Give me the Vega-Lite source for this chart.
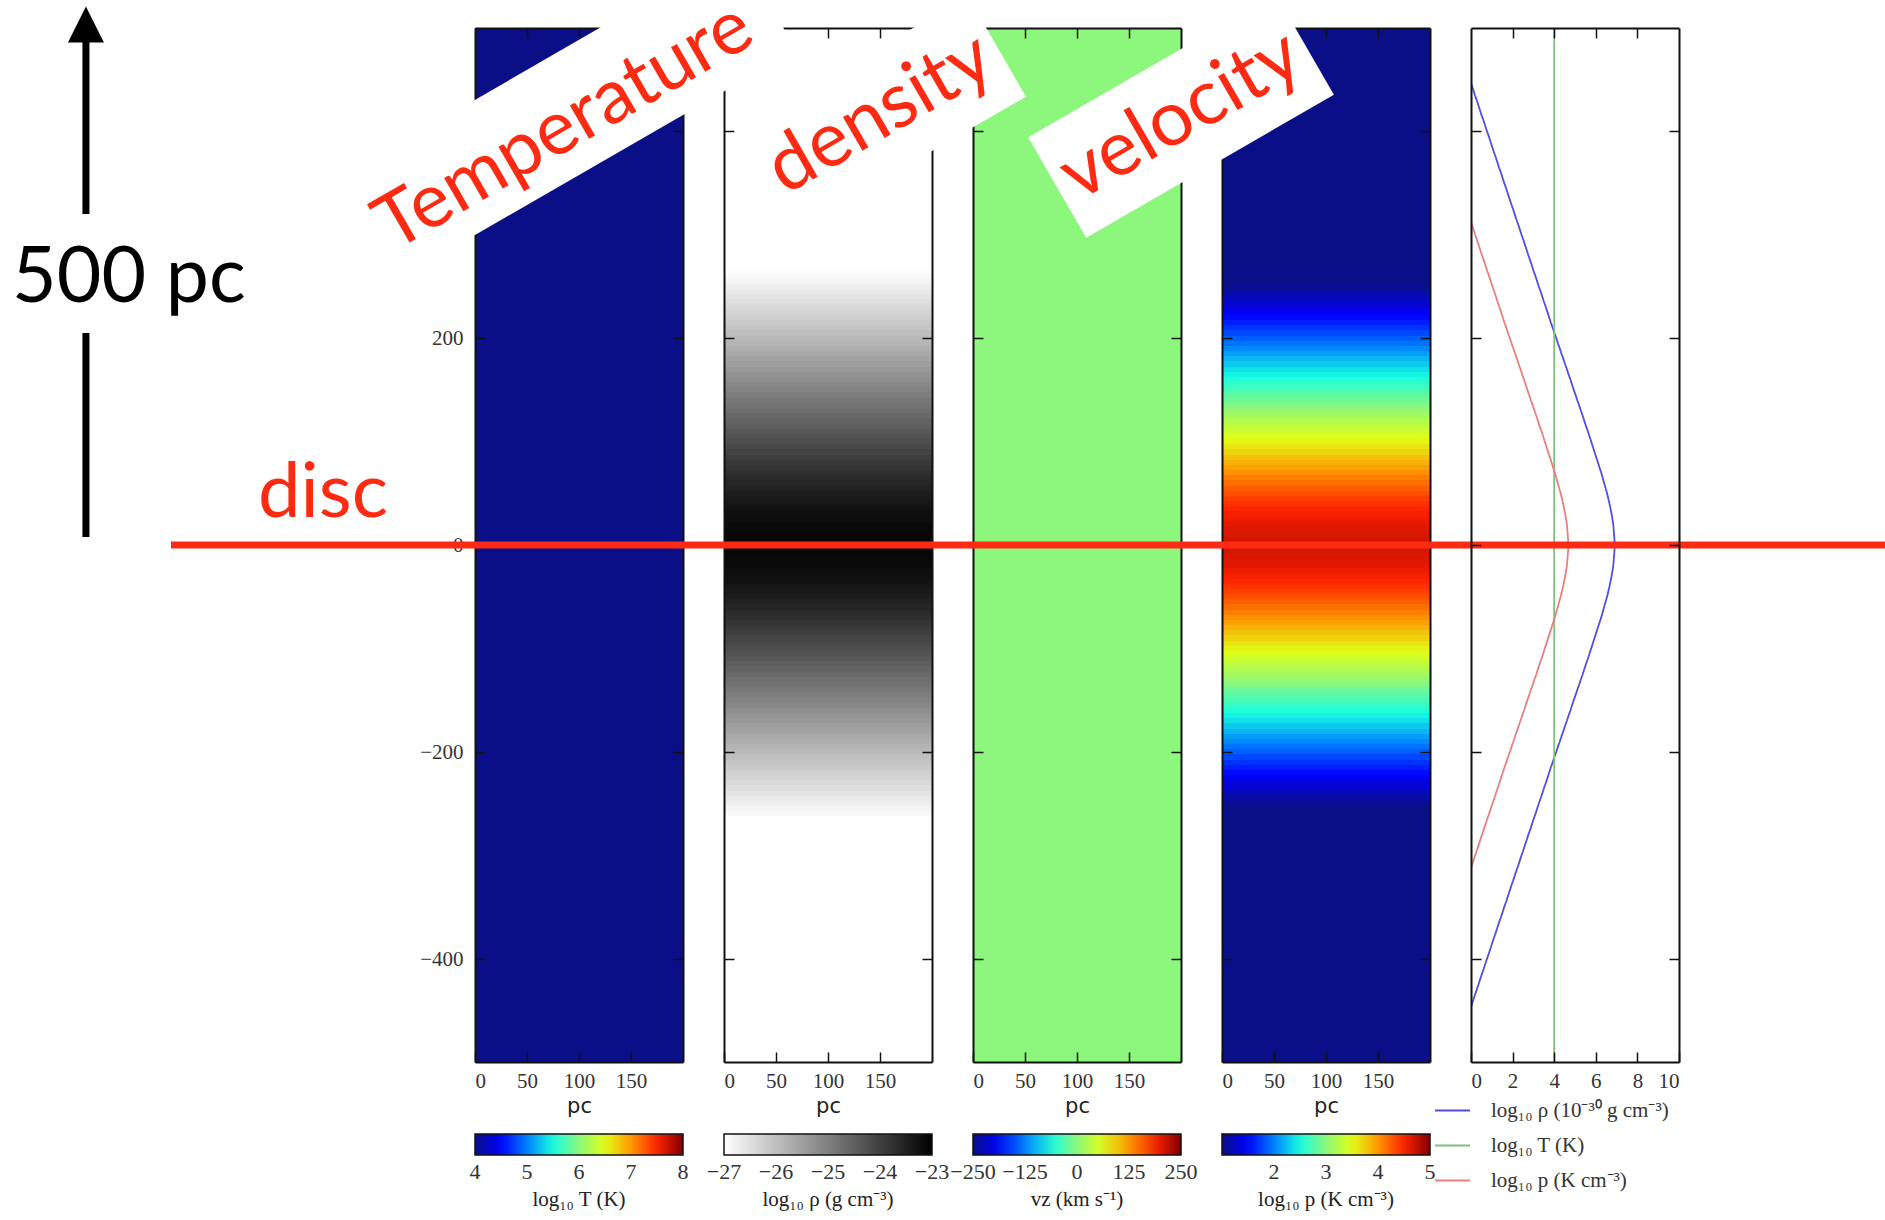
{
  "$schema": "https://vega.github.io/schema/vega-lite/v6.json",
  "autosize": {"type": "none"},
  "padding": {"left": 475, "top": 28, "right": 1410, "bottom": 1192},
  "background": "white",
  "bounds": "flush",
  "spacing": 41,
  "config": {
    "view": {"stroke": null},
    "font": "Liberation Serif",
    "axis": {"domainColor": "#111111", "domainWidth": 2, "tickColor": "#111111", "tickWidth": 1.5, "labelFont": "Liberation Serif", "labelFontSize": 21, "labelColor": "#333333", "grid": false, "titleFont": "DejaVu Sans", "titleFontSize": 21, "titleFontWeight": "normal", "titleColor": "#222222"},
    "legend": {"labelFont": "Liberation Serif", "labelFontSize": 22, "labelColor": "#333333", "titleFont": "Liberation Serif", "titleFontSize": 21, "titleFontWeight": "normal", "titleColor": "#222222", "padding": 0}
  },
  "datasets": {
    "profile": [
      {"z": -500, "T": 4, "v": 0, "r": -0.89, "rc": -30.89, "p": -3.12},
      {"z": -495, "T": 4, "v": 0, "r": -0.80, "rc": -30.80, "p": -3.03},
      {"z": -490, "T": 4, "v": 0, "r": -0.72, "rc": -30.72, "p": -2.95},
      {"z": -485, "T": 4, "v": 0, "r": -0.64, "rc": -30.64, "p": -2.87},
      {"z": -480, "T": 4, "v": 0, "r": -0.56, "rc": -30.56, "p": -2.79},
      {"z": -475, "T": 4, "v": 0, "r": -0.47, "rc": -30.47, "p": -2.70},
      {"z": -470, "T": 4, "v": 0, "r": -0.39, "rc": -30.39, "p": -2.62},
      {"z": -465, "T": 4, "v": 0, "r": -0.31, "rc": -30.31, "p": -2.54},
      {"z": -460, "T": 4, "v": 0, "r": -0.22, "rc": -30.22, "p": -2.45},
      {"z": -455, "T": 4, "v": 0, "r": -0.14, "rc": -30.14, "p": -2.37},
      {"z": -450, "T": 4, "v": 0, "r": -0.06, "rc": -30.06, "p": -2.29},
      {"z": -445, "T": 4, "v": 0, "r": 0.03, "rc": -29.97, "p": -2.20},
      {"z": -440, "T": 4, "v": 0, "r": 0.11, "rc": -29.89, "p": -2.12},
      {"z": -435, "T": 4, "v": 0, "r": 0.19, "rc": -29.81, "p": -2.04},
      {"z": -430, "T": 4, "v": 0, "r": 0.28, "rc": -29.72, "p": -1.95},
      {"z": -425, "T": 4, "v": 0, "r": 0.36, "rc": -29.64, "p": -1.87},
      {"z": -420, "T": 4, "v": 0, "r": 0.44, "rc": -29.56, "p": -1.79},
      {"z": -415, "T": 4, "v": 0, "r": 0.52, "rc": -29.48, "p": -1.71},
      {"z": -410, "T": 4, "v": 0, "r": 0.61, "rc": -29.39, "p": -1.62},
      {"z": -405, "T": 4, "v": 0, "r": 0.69, "rc": -29.31, "p": -1.54},
      {"z": -400, "T": 4, "v": 0, "r": 0.77, "rc": -29.23, "p": -1.46},
      {"z": -395, "T": 4, "v": 0, "r": 0.86, "rc": -29.14, "p": -1.37},
      {"z": -390, "T": 4, "v": 0, "r": 0.94, "rc": -29.06, "p": -1.29},
      {"z": -385, "T": 4, "v": 0, "r": 1.02, "rc": -28.98, "p": -1.21},
      {"z": -380, "T": 4, "v": 0, "r": 1.10, "rc": -28.90, "p": -1.13},
      {"z": -375, "T": 4, "v": 0, "r": 1.19, "rc": -28.81, "p": -1.04},
      {"z": -370, "T": 4, "v": 0, "r": 1.27, "rc": -28.73, "p": -0.96},
      {"z": -365, "T": 4, "v": 0, "r": 1.35, "rc": -28.65, "p": -0.88},
      {"z": -360, "T": 4, "v": 0, "r": 1.44, "rc": -28.56, "p": -0.79},
      {"z": -355, "T": 4, "v": 0, "r": 1.52, "rc": -28.48, "p": -0.71},
      {"z": -350, "T": 4, "v": 0, "r": 1.60, "rc": -28.40, "p": -0.63},
      {"z": -345, "T": 4, "v": 0, "r": 1.69, "rc": -28.31, "p": -0.54},
      {"z": -340, "T": 4, "v": 0, "r": 1.77, "rc": -28.23, "p": -0.46},
      {"z": -335, "T": 4, "v": 0, "r": 1.85, "rc": -28.15, "p": -0.38},
      {"z": -330, "T": 4, "v": 0, "r": 1.93, "rc": -28.07, "p": -0.30},
      {"z": -325, "T": 4, "v": 0, "r": 2.02, "rc": -27.98, "p": -0.21},
      {"z": -320, "T": 4, "v": 0, "r": 2.10, "rc": -27.90, "p": -0.13},
      {"z": -315, "T": 4, "v": 0, "r": 2.18, "rc": -27.82, "p": -0.05},
      {"z": -310, "T": 4, "v": 0, "r": 2.27, "rc": -27.73, "p": 0.04},
      {"z": -305, "T": 4, "v": 0, "r": 2.35, "rc": -27.65, "p": 0.12},
      {"z": -300, "T": 4, "v": 0, "r": 2.43, "rc": -27.57, "p": 0.20},
      {"z": -295, "T": 4, "v": 0, "r": 2.52, "rc": -27.48, "p": 0.29},
      {"z": -290, "T": 4, "v": 0, "r": 2.60, "rc": -27.40, "p": 0.37},
      {"z": -285, "T": 4, "v": 0, "r": 2.68, "rc": -27.32, "p": 0.45},
      {"z": -280, "T": 4, "v": 0, "r": 2.76, "rc": -27.24, "p": 0.53},
      {"z": -275, "T": 4, "v": 0, "r": 2.85, "rc": -27.15, "p": 0.62},
      {"z": -270, "T": 4, "v": 0, "r": 2.93, "rc": -27.07, "p": 0.70},
      {"z": -265, "T": 4, "v": 0, "r": 3.01, "rc": -26.99, "p": 0.78},
      {"z": -260, "T": 4, "v": 0, "r": 3.10, "rc": -26.90, "p": 0.87},
      {"z": -255, "T": 4, "v": 0, "r": 3.18, "rc": -26.82, "p": 0.95},
      {"z": -250, "T": 4, "v": 0, "r": 3.26, "rc": -26.74, "p": 1.03},
      {"z": -245, "T": 4, "v": 0, "r": 3.35, "rc": -26.65, "p": 1.12},
      {"z": -240, "T": 4, "v": 0, "r": 3.43, "rc": -26.57, "p": 1.20},
      {"z": -235, "T": 4, "v": 0, "r": 3.51, "rc": -26.49, "p": 1.28},
      {"z": -230, "T": 4, "v": 0, "r": 3.60, "rc": -26.40, "p": 1.37},
      {"z": -225, "T": 4, "v": 0, "r": 3.68, "rc": -26.32, "p": 1.45},
      {"z": -220, "T": 4, "v": 0, "r": 3.76, "rc": -26.24, "p": 1.53},
      {"z": -215, "T": 4, "v": 0, "r": 3.84, "rc": -26.16, "p": 1.61},
      {"z": -210, "T": 4, "v": 0, "r": 3.93, "rc": -26.07, "p": 1.70},
      {"z": -205, "T": 4, "v": 0, "r": 4.01, "rc": -25.99, "p": 1.78},
      {"z": -200, "T": 4, "v": 0, "r": 4.10, "rc": -25.90, "p": 1.87},
      {"z": -195, "T": 4, "v": 0, "r": 4.18, "rc": -25.82, "p": 1.95},
      {"z": -190, "T": 4, "v": 0, "r": 4.27, "rc": -25.73, "p": 2.04},
      {"z": -185, "T": 4, "v": 0, "r": 4.35, "rc": -25.65, "p": 2.12},
      {"z": -180, "T": 4, "v": 0, "r": 4.44, "rc": -25.56, "p": 2.21},
      {"z": -175, "T": 4, "v": 0, "r": 4.52, "rc": -25.48, "p": 2.29},
      {"z": -170, "T": 4, "v": 0, "r": 4.61, "rc": -25.39, "p": 2.38},
      {"z": -165, "T": 4, "v": 0, "r": 4.69, "rc": -25.31, "p": 2.46},
      {"z": -160, "T": 4, "v": 0, "r": 4.78, "rc": -25.22, "p": 2.55},
      {"z": -155, "T": 4, "v": 0, "r": 4.86, "rc": -25.14, "p": 2.63},
      {"z": -150, "T": 4, "v": 0, "r": 4.94, "rc": -25.06, "p": 2.71},
      {"z": -145, "T": 4, "v": 0, "r": 5.03, "rc": -24.97, "p": 2.80},
      {"z": -140, "T": 4, "v": 0, "r": 5.11, "rc": -24.89, "p": 2.88},
      {"z": -135, "T": 4, "v": 0, "r": 5.20, "rc": -24.80, "p": 2.97},
      {"z": -130, "T": 4, "v": 0, "r": 5.28, "rc": -24.72, "p": 3.05},
      {"z": -125, "T": 4, "v": 0, "r": 5.37, "rc": -24.63, "p": 3.14},
      {"z": -120, "T": 4, "v": 0, "r": 5.45, "rc": -24.55, "p": 3.22},
      {"z": -115, "T": 4, "v": 0, "r": 5.53, "rc": -24.47, "p": 3.30},
      {"z": -110, "T": 4, "v": 0, "r": 5.62, "rc": -24.38, "p": 3.39},
      {"z": -105, "T": 4, "v": 0, "r": 5.70, "rc": -24.30, "p": 3.47},
      {"z": -100, "T": 4, "v": 0, "r": 5.78, "rc": -24.22, "p": 3.55},
      {"z": -95, "T": 4, "v": 0, "r": 5.86, "rc": -24.14, "p": 3.63},
      {"z": -90, "T": 4, "v": 0, "r": 5.94, "rc": -24.06, "p": 3.71},
      {"z": -85, "T": 4, "v": 0, "r": 6.02, "rc": -23.98, "p": 3.79},
      {"z": -80, "T": 4, "v": 0, "r": 6.10, "rc": -23.90, "p": 3.87},
      {"z": -75, "T": 4, "v": 0, "r": 6.18, "rc": -23.82, "p": 3.95},
      {"z": -70, "T": 4, "v": 0, "r": 6.26, "rc": -23.74, "p": 4.03},
      {"z": -65, "T": 4, "v": 0, "r": 6.33, "rc": -23.67, "p": 4.10},
      {"z": -60, "T": 4, "v": 0, "r": 6.40, "rc": -23.60, "p": 4.17},
      {"z": -55, "T": 4, "v": 0, "r": 6.47, "rc": -23.53, "p": 4.24},
      {"z": -50, "T": 4, "v": 0, "r": 6.54, "rc": -23.46, "p": 4.31},
      {"z": -45, "T": 4, "v": 0, "r": 6.60, "rc": -23.40, "p": 4.37},
      {"z": -40, "T": 4, "v": 0, "r": 6.66, "rc": -23.34, "p": 4.43},
      {"z": -35, "T": 4, "v": 0, "r": 6.71, "rc": -23.29, "p": 4.48},
      {"z": -30, "T": 4, "v": 0, "r": 6.76, "rc": -23.24, "p": 4.53},
      {"z": -25, "T": 4, "v": 0, "r": 6.80, "rc": -23.20, "p": 4.57},
      {"z": -20, "T": 4, "v": 0, "r": 6.84, "rc": -23.16, "p": 4.61},
      {"z": -15, "T": 4, "v": 0, "r": 6.86, "rc": -23.14, "p": 4.63},
      {"z": -10, "T": 4, "v": 0, "r": 6.88, "rc": -23.12, "p": 4.65},
      {"z": -5, "T": 4, "v": 0, "r": 6.90, "rc": -23.10, "p": 4.67},
      {"z": 0, "T": 4, "v": 0, "r": 6.90, "rc": -23.10, "p": 4.67},
      {"z": 5, "T": 4, "v": 0, "r": 6.90, "rc": -23.10, "p": 4.67},
      {"z": 10, "T": 4, "v": 0, "r": 6.88, "rc": -23.12, "p": 4.65},
      {"z": 15, "T": 4, "v": 0, "r": 6.86, "rc": -23.14, "p": 4.63},
      {"z": 20, "T": 4, "v": 0, "r": 6.84, "rc": -23.16, "p": 4.61},
      {"z": 25, "T": 4, "v": 0, "r": 6.80, "rc": -23.20, "p": 4.57},
      {"z": 30, "T": 4, "v": 0, "r": 6.76, "rc": -23.24, "p": 4.53},
      {"z": 35, "T": 4, "v": 0, "r": 6.71, "rc": -23.29, "p": 4.48},
      {"z": 40, "T": 4, "v": 0, "r": 6.66, "rc": -23.34, "p": 4.43},
      {"z": 45, "T": 4, "v": 0, "r": 6.60, "rc": -23.40, "p": 4.37},
      {"z": 50, "T": 4, "v": 0, "r": 6.54, "rc": -23.46, "p": 4.31},
      {"z": 55, "T": 4, "v": 0, "r": 6.47, "rc": -23.53, "p": 4.24},
      {"z": 60, "T": 4, "v": 0, "r": 6.40, "rc": -23.60, "p": 4.17},
      {"z": 65, "T": 4, "v": 0, "r": 6.33, "rc": -23.67, "p": 4.10},
      {"z": 70, "T": 4, "v": 0, "r": 6.26, "rc": -23.74, "p": 4.03},
      {"z": 75, "T": 4, "v": 0, "r": 6.18, "rc": -23.82, "p": 3.95},
      {"z": 80, "T": 4, "v": 0, "r": 6.10, "rc": -23.90, "p": 3.87},
      {"z": 85, "T": 4, "v": 0, "r": 6.02, "rc": -23.98, "p": 3.79},
      {"z": 90, "T": 4, "v": 0, "r": 5.94, "rc": -24.06, "p": 3.71},
      {"z": 95, "T": 4, "v": 0, "r": 5.86, "rc": -24.14, "p": 3.63},
      {"z": 100, "T": 4, "v": 0, "r": 5.78, "rc": -24.22, "p": 3.55},
      {"z": 105, "T": 4, "v": 0, "r": 5.70, "rc": -24.30, "p": 3.47},
      {"z": 110, "T": 4, "v": 0, "r": 5.62, "rc": -24.38, "p": 3.39},
      {"z": 115, "T": 4, "v": 0, "r": 5.53, "rc": -24.47, "p": 3.30},
      {"z": 120, "T": 4, "v": 0, "r": 5.45, "rc": -24.55, "p": 3.22},
      {"z": 125, "T": 4, "v": 0, "r": 5.37, "rc": -24.63, "p": 3.14},
      {"z": 130, "T": 4, "v": 0, "r": 5.28, "rc": -24.72, "p": 3.05},
      {"z": 135, "T": 4, "v": 0, "r": 5.20, "rc": -24.80, "p": 2.97},
      {"z": 140, "T": 4, "v": 0, "r": 5.11, "rc": -24.89, "p": 2.88},
      {"z": 145, "T": 4, "v": 0, "r": 5.03, "rc": -24.97, "p": 2.80},
      {"z": 150, "T": 4, "v": 0, "r": 4.94, "rc": -25.06, "p": 2.71},
      {"z": 155, "T": 4, "v": 0, "r": 4.86, "rc": -25.14, "p": 2.63},
      {"z": 160, "T": 4, "v": 0, "r": 4.78, "rc": -25.22, "p": 2.55},
      {"z": 165, "T": 4, "v": 0, "r": 4.69, "rc": -25.31, "p": 2.46},
      {"z": 170, "T": 4, "v": 0, "r": 4.61, "rc": -25.39, "p": 2.38},
      {"z": 175, "T": 4, "v": 0, "r": 4.52, "rc": -25.48, "p": 2.29},
      {"z": 180, "T": 4, "v": 0, "r": 4.44, "rc": -25.56, "p": 2.21},
      {"z": 185, "T": 4, "v": 0, "r": 4.35, "rc": -25.65, "p": 2.12},
      {"z": 190, "T": 4, "v": 0, "r": 4.27, "rc": -25.73, "p": 2.04},
      {"z": 195, "T": 4, "v": 0, "r": 4.18, "rc": -25.82, "p": 1.95},
      {"z": 200, "T": 4, "v": 0, "r": 4.10, "rc": -25.90, "p": 1.87},
      {"z": 205, "T": 4, "v": 0, "r": 4.01, "rc": -25.99, "p": 1.78},
      {"z": 210, "T": 4, "v": 0, "r": 3.93, "rc": -26.07, "p": 1.70},
      {"z": 215, "T": 4, "v": 0, "r": 3.84, "rc": -26.16, "p": 1.61},
      {"z": 220, "T": 4, "v": 0, "r": 3.76, "rc": -26.24, "p": 1.53},
      {"z": 225, "T": 4, "v": 0, "r": 3.68, "rc": -26.32, "p": 1.45},
      {"z": 230, "T": 4, "v": 0, "r": 3.60, "rc": -26.40, "p": 1.37},
      {"z": 235, "T": 4, "v": 0, "r": 3.51, "rc": -26.49, "p": 1.28},
      {"z": 240, "T": 4, "v": 0, "r": 3.43, "rc": -26.57, "p": 1.20},
      {"z": 245, "T": 4, "v": 0, "r": 3.35, "rc": -26.65, "p": 1.12},
      {"z": 250, "T": 4, "v": 0, "r": 3.26, "rc": -26.74, "p": 1.03},
      {"z": 255, "T": 4, "v": 0, "r": 3.18, "rc": -26.82, "p": 0.95},
      {"z": 260, "T": 4, "v": 0, "r": 3.10, "rc": -26.90, "p": 0.87},
      {"z": 265, "T": 4, "v": 0, "r": 3.01, "rc": -26.99, "p": 0.78},
      {"z": 270, "T": 4, "v": 0, "r": 2.93, "rc": -27.07, "p": 0.70},
      {"z": 275, "T": 4, "v": 0, "r": 2.85, "rc": -27.15, "p": 0.62},
      {"z": 280, "T": 4, "v": 0, "r": 2.76, "rc": -27.24, "p": 0.53},
      {"z": 285, "T": 4, "v": 0, "r": 2.68, "rc": -27.32, "p": 0.45},
      {"z": 290, "T": 4, "v": 0, "r": 2.60, "rc": -27.40, "p": 0.37},
      {"z": 295, "T": 4, "v": 0, "r": 2.52, "rc": -27.48, "p": 0.29},
      {"z": 300, "T": 4, "v": 0, "r": 2.43, "rc": -27.57, "p": 0.20},
      {"z": 305, "T": 4, "v": 0, "r": 2.35, "rc": -27.65, "p": 0.12},
      {"z": 310, "T": 4, "v": 0, "r": 2.27, "rc": -27.73, "p": 0.04},
      {"z": 315, "T": 4, "v": 0, "r": 2.18, "rc": -27.82, "p": -0.05},
      {"z": 320, "T": 4, "v": 0, "r": 2.10, "rc": -27.90, "p": -0.13},
      {"z": 325, "T": 4, "v": 0, "r": 2.02, "rc": -27.98, "p": -0.21},
      {"z": 330, "T": 4, "v": 0, "r": 1.93, "rc": -28.07, "p": -0.30},
      {"z": 335, "T": 4, "v": 0, "r": 1.85, "rc": -28.15, "p": -0.38},
      {"z": 340, "T": 4, "v": 0, "r": 1.77, "rc": -28.23, "p": -0.46},
      {"z": 345, "T": 4, "v": 0, "r": 1.69, "rc": -28.31, "p": -0.54},
      {"z": 350, "T": 4, "v": 0, "r": 1.60, "rc": -28.40, "p": -0.63},
      {"z": 355, "T": 4, "v": 0, "r": 1.52, "rc": -28.48, "p": -0.71},
      {"z": 360, "T": 4, "v": 0, "r": 1.44, "rc": -28.56, "p": -0.79},
      {"z": 365, "T": 4, "v": 0, "r": 1.35, "rc": -28.65, "p": -0.88},
      {"z": 370, "T": 4, "v": 0, "r": 1.27, "rc": -28.73, "p": -0.96},
      {"z": 375, "T": 4, "v": 0, "r": 1.19, "rc": -28.81, "p": -1.04},
      {"z": 380, "T": 4, "v": 0, "r": 1.10, "rc": -28.90, "p": -1.13},
      {"z": 385, "T": 4, "v": 0, "r": 1.02, "rc": -28.98, "p": -1.21},
      {"z": 390, "T": 4, "v": 0, "r": 0.94, "rc": -29.06, "p": -1.29},
      {"z": 395, "T": 4, "v": 0, "r": 0.86, "rc": -29.14, "p": -1.37},
      {"z": 400, "T": 4, "v": 0, "r": 0.77, "rc": -29.23, "p": -1.46},
      {"z": 405, "T": 4, "v": 0, "r": 0.69, "rc": -29.31, "p": -1.54},
      {"z": 410, "T": 4, "v": 0, "r": 0.61, "rc": -29.39, "p": -1.62},
      {"z": 415, "T": 4, "v": 0, "r": 0.52, "rc": -29.48, "p": -1.71},
      {"z": 420, "T": 4, "v": 0, "r": 0.44, "rc": -29.56, "p": -1.79},
      {"z": 425, "T": 4, "v": 0, "r": 0.36, "rc": -29.64, "p": -1.87},
      {"z": 430, "T": 4, "v": 0, "r": 0.28, "rc": -29.72, "p": -1.95},
      {"z": 435, "T": 4, "v": 0, "r": 0.19, "rc": -29.81, "p": -2.04},
      {"z": 440, "T": 4, "v": 0, "r": 0.11, "rc": -29.89, "p": -2.12},
      {"z": 445, "T": 4, "v": 0, "r": 0.03, "rc": -29.97, "p": -2.20},
      {"z": 450, "T": 4, "v": 0, "r": -0.06, "rc": -30.06, "p": -2.29},
      {"z": 455, "T": 4, "v": 0, "r": -0.14, "rc": -30.14, "p": -2.37},
      {"z": 460, "T": 4, "v": 0, "r": -0.22, "rc": -30.22, "p": -2.45},
      {"z": 465, "T": 4, "v": 0, "r": -0.31, "rc": -30.31, "p": -2.54},
      {"z": 470, "T": 4, "v": 0, "r": -0.39, "rc": -30.39, "p": -2.62},
      {"z": 475, "T": 4, "v": 0, "r": -0.47, "rc": -30.47, "p": -2.70},
      {"z": 480, "T": 4, "v": 0, "r": -0.56, "rc": -30.56, "p": -2.79},
      {"z": 485, "T": 4, "v": 0, "r": -0.64, "rc": -30.64, "p": -2.87},
      {"z": 490, "T": 4, "v": 0, "r": -0.72, "rc": -30.72, "p": -2.95},
      {"z": 495, "T": 4, "v": 0, "r": -0.80, "rc": -30.80, "p": -3.03},
      {"z": 500, "T": 4, "v": 0, "r": -0.89, "rc": -30.89, "p": -3.12}
    ]
  },
  "resolve": {"scale": {"x": "independent", "y": "independent", "color": "independent"}, "legend": {"color": "independent"}},
  "hconcat": [
    {
      "width": 208, "height": 1034,
      "data": {"name": "profile"},
      "transform": [{"bin": {"step": 5, "extent": [-502.5, 502.5], "nice": false}, "field": "z", "as": ["z0", "z1"]}],
      "resolve": {"axis": {"x": "independent", "y": "independent"}},
      "layer": [
        {
          "mark": {"type": "rect", "strokeWidth": 0, "clip": true},
          "encoding": {
            "x": {"datum": 0, "type": "quantitative", "scale": {"domain": [0, 200], "nice": false, "zero": false, "round": true}, "axis": {"orient": "bottom", "values": [0, 50, 100, 150], "tickSize": -10, "labelPadding": 18, "title": "pc", "titlePadding": 4, "zindex": 1}},
            "x2": {"datum": 200},
            "y": {"field": "z0", "type": "quantitative", "scale": {"domain": [-500, 500], "nice": false, "zero": false, "round": true}, "axis": {"orient": "left", "values": [-400, -200, 0, 200, 400], "tickSize": -10, "labelPadding": 22, "title": null, "zindex": 1}},
            "y2": {"field": "z1"},
            "color": {"field": "T", "type": "quantitative", "title": "log₁₀ T (K)",
              "scale": {"type": "linear", "domain": [4, 4.5, 5, 5.5, 6, 6.5, 7, 7.5, 8], "range": ["#0a0f87", "#0000ff", "#0080ff", "#15ffe2", "#8cf77c", "#e2ff15", "#ff9700", "#ff2100", "#800000"], "interpolate": "rgb", "clamp": true},
              "legend": {"type": "gradient", "orient": "none", "legendX": 0, "legendY": 1106, "direction": "horizontal", "gradientLength": 208, "gradientThickness": 21, "gradientStrokeColor": "#111111", "gradientStrokeWidth": 1.5, "titleOrient": "bottom", "titleAnchor": "middle", "titlePadding": 6, "values": [4.001, 5, 6, 7, 7.999], "format": ".0f", "labelOverlap": false, "labelOffset": 7}}
          }
        },
        {
          "data": {"values": [{}]},
          "mark": {"type": "point", "opacity": 0},
          "encoding": {
            "x": {"datum": 100, "type": "quantitative", "scale": {"domain": [0, 200], "nice": false, "zero": false, "round": true}, "axis": {"orient": "top", "values": [50, 100, 150], "tickSize": -10, "labels": false, "title": null, "zindex": 1}},
            "y": {"datum": 0, "type": "quantitative", "scale": {"domain": [-500, 500], "nice": false, "zero": false, "round": true}, "axis": {"orient": "right", "values": [-400, -200, 0, 200, 400], "tickSize": -10, "labels": false, "title": null, "zindex": 1}}
          }
        }
      ]
    },
    {
      "width": 208, "height": 1034,
      "data": {"name": "profile"},
      "transform": [{"bin": {"step": 5, "extent": [-502.5, 502.5], "nice": false}, "field": "z", "as": ["z0", "z1"]}],
      "resolve": {"axis": {"x": "independent", "y": "independent"}},
      "layer": [
        {
          "mark": {"type": "rect", "strokeWidth": 0, "clip": true},
          "encoding": {
            "x": {"datum": 0, "type": "quantitative", "scale": {"domain": [0, 200], "nice": false, "zero": false, "round": true}, "axis": {"orient": "bottom", "values": [0, 50, 100, 150], "tickSize": -10, "labelPadding": 18, "title": "pc", "titlePadding": 4, "zindex": 1}},
            "x2": {"datum": 200},
            "y": {"field": "z0", "type": "quantitative", "scale": {"domain": [-500, 500], "nice": false, "zero": false, "round": true}, "axis": {"orient": "left", "values": [-400, -200, 0, 200, 400], "tickSize": -10, "labels": false, "title": null, "zindex": 1}},
            "y2": {"field": "z1"},
            "color": {"field": "rc", "type": "quantitative", "title": "log₁₀ ρ (g cm⁻³)",
              "scale": {"type": "linear", "domain": [-27, -23], "range": ["#ffffff", "#000000"], "interpolate": "rgb", "clamp": true},
              "legend": {"type": "gradient", "orient": "none", "legendX": 0, "legendY": 1106, "direction": "horizontal", "gradientLength": 208, "gradientThickness": 21, "gradientStrokeColor": "#111111", "gradientStrokeWidth": 1.5, "titleOrient": "bottom", "titleAnchor": "middle", "titlePadding": 6, "values": [-26.999, -26, -25, -24, -23.001], "format": ".0f", "labelOverlap": false, "labelOffset": 7}}
          }
        },
        {
          "data": {"values": [{}]},
          "mark": {"type": "point", "opacity": 0},
          "encoding": {
            "x": {"datum": 100, "type": "quantitative", "scale": {"domain": [0, 200], "nice": false, "zero": false, "round": true}, "axis": {"orient": "top", "values": [50, 100, 150], "tickSize": -10, "labels": false, "title": null, "zindex": 1}},
            "y": {"datum": 0, "type": "quantitative", "scale": {"domain": [-500, 500], "nice": false, "zero": false, "round": true}, "axis": {"orient": "right", "values": [-400, -200, 0, 200, 400], "tickSize": -10, "labels": false, "title": null, "zindex": 1}}
          }
        }
      ]
    },
    {
      "width": 208, "height": 1034,
      "data": {"name": "profile"},
      "transform": [{"bin": {"step": 5, "extent": [-502.5, 502.5], "nice": false}, "field": "z", "as": ["z0", "z1"]}],
      "resolve": {"axis": {"x": "independent", "y": "independent"}},
      "layer": [
        {
          "mark": {"type": "rect", "strokeWidth": 0, "clip": true},
          "encoding": {
            "x": {"datum": 0, "type": "quantitative", "scale": {"domain": [0, 200], "nice": false, "zero": false, "round": true}, "axis": {"orient": "bottom", "values": [0, 50, 100, 150], "tickSize": -10, "labelPadding": 18, "title": "pc", "titlePadding": 4, "zindex": 1}},
            "x2": {"datum": 200},
            "y": {"field": "z0", "type": "quantitative", "scale": {"domain": [-500, 500], "nice": false, "zero": false, "round": true}, "axis": {"orient": "left", "values": [-400, -200, 0, 200, 400], "tickSize": -10, "labels": false, "title": null, "zindex": 1}},
            "y2": {"field": "z1"},
            "color": {"field": "v", "type": "quantitative", "title": "vz (km s⁻¹)",
              "scale": {"type": "linear", "domain": [-250, -187.5, -125, -62.5, 0, 62.5, 125, 187.5, 250], "range": ["#0a0f87", "#0000ff", "#0080ff", "#15ffe2", "#8cf77c", "#e2ff15", "#ff9700", "#ff2100", "#800000"], "interpolate": "rgb", "clamp": true},
              "legend": {"type": "gradient", "orient": "none", "legendX": 0, "legendY": 1106, "direction": "horizontal", "gradientLength": 208, "gradientThickness": 21, "gradientStrokeColor": "#111111", "gradientStrokeWidth": 1.5, "titleOrient": "bottom", "titleAnchor": "middle", "titlePadding": 6, "values": [-249.9, -125, 0, 125, 249.9], "format": ".0f", "labelOverlap": false, "labelOffset": 7}}
          }
        },
        {
          "data": {"values": [{}]},
          "mark": {"type": "point", "opacity": 0},
          "encoding": {
            "x": {"datum": 100, "type": "quantitative", "scale": {"domain": [0, 200], "nice": false, "zero": false, "round": true}, "axis": {"orient": "top", "values": [50, 100, 150], "tickSize": -10, "labels": false, "title": null, "zindex": 1}},
            "y": {"datum": 0, "type": "quantitative", "scale": {"domain": [-500, 500], "nice": false, "zero": false, "round": true}, "axis": {"orient": "right", "values": [-400, -200, 0, 200, 400], "tickSize": -10, "labels": false, "title": null, "zindex": 1}}
          }
        }
      ]
    },
    {
      "width": 208, "height": 1034,
      "data": {"name": "profile"},
      "transform": [{"bin": {"step": 5, "extent": [-502.5, 502.5], "nice": false}, "field": "z", "as": ["z0", "z1"]}],
      "resolve": {"axis": {"x": "independent", "y": "independent"}},
      "layer": [
        {
          "mark": {"type": "rect", "strokeWidth": 0, "clip": true},
          "encoding": {
            "x": {"datum": 0, "type": "quantitative", "scale": {"domain": [0, 200], "nice": false, "zero": false, "round": true}, "axis": {"orient": "bottom", "values": [0, 50, 100, 150], "tickSize": -10, "labelPadding": 18, "title": "pc", "titlePadding": 4, "zindex": 1}},
            "x2": {"datum": 200},
            "y": {"field": "z0", "type": "quantitative", "scale": {"domain": [-500, 500], "nice": false, "zero": false, "round": true}, "axis": {"orient": "left", "values": [-400, -200, 0, 200, 400], "tickSize": -10, "labels": false, "title": null, "zindex": 1}},
            "y2": {"field": "z1"},
            "color": {"field": "p", "type": "quantitative", "title": "log₁₀ p (K cm⁻³)",
              "scale": {"type": "linear", "domain": [1, 1.5, 2, 2.5, 3, 3.5, 4, 4.5, 5], "range": ["#0a0f87", "#0000ff", "#0080ff", "#15ffe2", "#8cf77c", "#e2ff15", "#ff9700", "#ff2100", "#800000"], "interpolate": "rgb", "clamp": true},
              "legend": {"type": "gradient", "orient": "none", "legendX": 0, "legendY": 1106, "direction": "horizontal", "gradientLength": 208, "gradientThickness": 21, "gradientStrokeColor": "#111111", "gradientStrokeWidth": 1.5, "titleOrient": "bottom", "titleAnchor": "middle", "titlePadding": 6, "values": [2, 3, 4, 4.999], "format": ".0f", "labelOverlap": false, "labelOffset": 7}}
          }
        },
        {
          "data": {"values": [{}]},
          "mark": {"type": "point", "opacity": 0},
          "encoding": {
            "x": {"datum": 100, "type": "quantitative", "scale": {"domain": [0, 200], "nice": false, "zero": false, "round": true}, "axis": {"orient": "top", "values": [50, 100, 150], "tickSize": -10, "labels": false, "title": null, "zindex": 1}},
            "y": {"datum": 0, "type": "quantitative", "scale": {"domain": [-500, 500], "nice": false, "zero": false, "round": true}, "axis": {"orient": "right", "values": [-400, -200, 0, 200, 400], "tickSize": -10, "labels": false, "title": null, "zindex": 1}}
          }
        }
      ]
    },
    {
      "width": 208, "height": 1034,
      "data": {"name": "profile"},
      "resolve": {"axis": {"x": "independent", "y": "independent"}},
      "layer": [
        {
          "transform": [{"fold": ["r", "T", "p"], "as": ["series", "val"]}],
          "mark": {"type": "line", "strokeWidth": 1.8, "clip": true},
          "encoding": {
            "x": {"field": "val", "type": "quantitative", "scale": {"domain": [0, 10], "nice": false, "zero": false}, "axis": {"orient": "bottom", "values": [0, 2, 4, 6, 8, 10], "tickSize": -10, "labelPadding": 18, "title": null, "zindex": 1}},
            "y": {"field": "z", "type": "quantitative", "scale": {"domain": [-500, 500], "nice": false, "zero": false}, "axis": {"orient": "left", "values": [-400, -200, 0, 200, 400], "tickSize": -10, "labels": false, "title": null, "zindex": 1}},
            "color": {"field": "series", "type": "nominal", "title": null,
              "scale": {"domain": ["r", "T", "p"], "range": ["#5050e0", "#7dbf7d", "#e88080"]},
              "legend": {"orient": "none", "legendX": -37, "legendY": 1064, "direction": "vertical", "symbolType": "stroke", "symbolSize": 1225, "symbolStrokeWidth": 2, "labelOffset": 20, "labelFontSize": 21, "labelLimit": 400, "rowPadding": 6,
                "labelExpr": "datum.label === 'r' ? 'log₁₀ ρ (10⁻³⁰ g cm⁻³)' : (datum.label === 'T' ? 'log₁₀ T (K)' : 'log₁₀ p (K cm⁻³)')"}},
            "order": {"field": "z", "type": "quantitative"}
          }
        },
        {
          "data": {"values": [{}]},
          "mark": {"type": "point", "opacity": 0},
          "encoding": {
            "x": {"datum": 5, "type": "quantitative", "scale": {"domain": [0, 10], "nice": false, "zero": false}, "axis": {"orient": "top", "values": [2, 4, 6, 8], "tickSize": -10, "labels": false, "title": null, "zindex": 1}},
            "y": {"datum": 0, "type": "quantitative", "scale": {"domain": [-500, 500], "nice": false, "zero": false}, "axis": {"orient": "right", "values": [-400, -200, 0, 200, 400], "tickSize": -10, "labels": false, "title": null, "zindex": 1}}
          }
        },
        {
          "data": {"values": [{}]},
          "mark": {"type": "point", "shape": "M-1,-0.24375H1V0.24375H-1Z", "size": 230400, "angle": -30, "filled": true, "color": "white", "opacity": 1, "strokeWidth": 0, "clip": false},
          "encoding": {
            "x": {"datum": -43.85, "type": "quantitative", "scale": {"domain": [0, 10], "nice": false, "zero": false}, "axis": null},
            "y": {"datum": 412, "type": "quantitative", "scale": {"domain": [-500, 500], "nice": false, "zero": false}, "axis": null}
          }
        },
        {
          "data": {"values": [{}]},
          "mark": {"type": "point", "shape": "M-1,-0.4296H1V0.4296H-1Z", "size": 72900, "angle": -30, "filled": true, "color": "white", "opacity": 1, "strokeWidth": 0, "clip": false},
          "encoding": {
            "x": {"datum": -28.41, "type": "quantitative", "scale": {"domain": [0, 10], "nice": false, "zero": false}, "axis": null},
            "y": {"datum": 416.8, "type": "quantitative", "scale": {"domain": [-500, 500], "nice": false, "zero": false}, "axis": null}
          }
        },
        {
          "data": {"values": [{}]},
          "mark": {"type": "point", "shape": "M-1,-0.4056H1V0.4056H-1Z", "size": 81796, "angle": -30, "filled": true, "color": "white", "opacity": 1, "strokeWidth": 0, "clip": false},
          "encoding": {
            "x": {"datum": -13.94, "type": "quantitative", "scale": {"domain": [0, 10], "nice": false, "zero": false}, "axis": null},
            "y": {"datum": 414.9, "type": "quantitative", "scale": {"domain": [-500, 500], "nice": false, "zero": false}, "axis": null}
          }
        },
        {
          "data": {"values": [{}]},
          "mark": {"type": "text", "text": "Temperature", "font": "Lato", "fontSize": 76, "color": "#ff2a12", "angle": -30, "align": "center", "baseline": "middle", "clip": false},
          "encoding": {
            "x": {"datum": -43.6, "type": "quantitative", "scale": {"domain": [0, 10], "nice": false, "zero": false}, "axis": null},
            "y": {"datum": 404.5, "type": "quantitative", "scale": {"domain": [-500, 500], "nice": false, "zero": false}, "axis": null}
          }
        },
        {
          "data": {"values": [{}]},
          "mark": {"type": "text", "text": "density", "font": "Lato", "fontSize": 77, "color": "#ff2a12", "angle": -30, "align": "center", "baseline": "middle", "clip": false},
          "encoding": {
            "x": {"datum": -28.41, "type": "quantitative", "scale": {"domain": [0, 10], "nice": false, "zero": false}, "axis": null},
            "y": {"datum": 416.8, "type": "quantitative", "scale": {"domain": [-500, 500], "nice": false, "zero": false}, "axis": null}
          }
        },
        {
          "data": {"values": [{}]},
          "mark": {"type": "text", "text": "velocity", "font": "Lato", "fontSize": 77, "color": "#ff2a12", "angle": -30, "align": "center", "baseline": "middle", "clip": false},
          "encoding": {
            "x": {"datum": -13.94, "type": "quantitative", "scale": {"domain": [0, 10], "nice": false, "zero": false}, "axis": null},
            "y": {"datum": 414.9, "type": "quantitative", "scale": {"domain": [-500, 500], "nice": false, "zero": false}, "axis": null}
          }
        },
        {
          "data": {"values": [{}]},
          "mark": {"type": "rule", "color": "black", "strokeWidth": 7, "clip": false},
          "encoding": {
            "x": {"datum": -66.59, "type": "quantitative", "scale": {"domain": [0, 10], "nice": false, "zero": false}, "axis": null},
            "y": {"datum": 488.4, "type": "quantitative", "scale": {"domain": [-500, 500], "nice": false, "zero": false}, "axis": null},
            "y2": {"datum": 320.1}
          }
        },
        {
          "data": {"values": [{}]},
          "mark": {"type": "rule", "color": "black", "strokeWidth": 7, "clip": false},
          "encoding": {
            "x": {"datum": -66.59, "type": "quantitative", "scale": {"domain": [0, 10], "nice": false, "zero": false}, "axis": null},
            "y": {"datum": 205.0, "type": "quantitative", "scale": {"domain": [-500, 500], "nice": false, "zero": false}, "axis": null},
            "y2": {"datum": 7.7}
          }
        },
        {
          "data": {"values": [{}]},
          "mark": {"type": "point", "shape": "M0,-1L1,1L-1,1Z", "size": 1296, "filled": true, "color": "black", "opacity": 1, "strokeWidth": 0, "clip": false},
          "encoding": {
            "x": {"datum": -66.59, "type": "quantitative", "scale": {"domain": [0, 10], "nice": false, "zero": false}, "axis": null},
            "y": {"datum": 503.4, "type": "quantitative", "scale": {"domain": [-500, 500], "nice": false, "zero": false}, "axis": null}
          }
        },
        {
          "data": {"values": [{}]},
          "mark": {"type": "text", "text": "500 pc", "font": "Lato", "fontSize": 77, "color": "black", "align": "left", "baseline": "alphabetic", "clip": false},
          "encoding": {
            "x": {"datum": -70.14, "type": "quantitative", "scale": {"domain": [0, 10], "nice": false, "zero": false}, "axis": null},
            "y": {"datum": 235.0, "type": "quantitative", "scale": {"domain": [-500, 500], "nice": false, "zero": false}, "axis": null}
          }
        },
        {
          "data": {"values": [{}]},
          "mark": {"type": "text", "text": "disc", "font": "Lato", "fontSize": 76, "color": "#ff2a12", "align": "left", "baseline": "alphabetic", "clip": false},
          "encoding": {
            "x": {"datum": -58.32, "type": "quantitative", "scale": {"domain": [0, 10], "nice": false, "zero": false}, "axis": null},
            "y": {"datum": 27.1, "type": "quantitative", "scale": {"domain": [-500, 500], "nice": false, "zero": false}, "axis": null}
          }
        },
        {
          "data": {"values": [{}]},
          "mark": {"type": "rule", "color": "#ff2a14", "strokeWidth": 7, "clip": false},
          "encoding": {
            "x": {"datum": -62.5, "type": "quantitative", "scale": {"domain": [0, 10], "nice": false, "zero": false}, "axis": null},
            "x2": {"datum": 20},
            "y": {"datum": 0, "type": "quantitative", "scale": {"domain": [-500, 500], "nice": false, "zero": false}, "axis": null}
          }
        }
      ]
    }
  ]
}
